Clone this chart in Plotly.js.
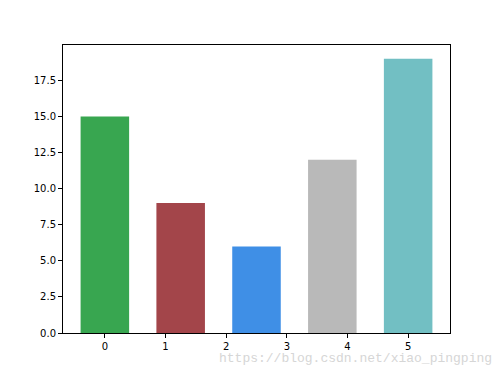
<!DOCTYPE html>
<html>
<head>
<meta charset="utf-8">
<script src="https://cdn.plot.ly/plotly-3.0.1.min.js"></script>
<style>html,body{margin:0;padding:0;background:#fff;}#chart{width:500px;height:375px;}</style>
</head>
<body>
<div id="chart"></div>
<script>
const xPositions = [0, 1.25, 2.5, 3.75, 5];
const values = [15, 9, 6, 12, 19];
const barColors = ["#38a650", "#a3454a", "#3f8fe6", "#b9b9b9", "#72bfc3"];
const xTicks = [0, 1, 2, 3, 4, 5];
const yTicks = [0, 2.5, 5, 7.5, 10, 12.5, 15, 17.5];
const yTickLabels = ["0.0", "2.5", "5.0", "7.5", "10.0", "12.5", "15.0", "17.5"];
const watermark = "https://blog.csdn.net/xiao_pingping";

const trace = {
  type: "bar",
  x: xPositions,
  y: values,
  width: 0.8,
  marker: {color: barColors, line: {width: 0}},
  hoverinfo: "x+y"
};

const layout = {
  width: 500, height: 375,
  margin: {l: 63, r: 50, t: 45, b: 42},
  paper_bgcolor: "#fff", plot_bgcolor: "#fff",
  font: {family: "DejaVu Sans", size: 10, color: "#000"},
  showlegend: false,
  xaxis: {
    range: [-0.69, 5.69],
    tickvals: xTicks, ticktext: xTicks.map(String),
    ticks: "outside", ticklen: 4, tickwidth: 1, tickcolor: "#000",
    showgrid: false, zeroline: false,
    showline: true, linecolor: "#000", linewidth: 1, mirror: true
  },
  yaxis: {
    range: [0, 19.95],
    tickvals: yTicks, ticktext: yTickLabels,
    ticks: "outside", ticklen: 4, tickwidth: 1, tickcolor: "#000",
    showgrid: false, zeroline: false,
    showline: true, linecolor: "#000", linewidth: 1, mirror: true
  },
  annotations: [{
    text: watermark, xref: "paper", yref: "paper",
    x: 0.398, y: -0.087, xanchor: "left", yanchor: "middle",
    showarrow: false,
    font: {family: "Liberation Mono", size: 13, color: "#d6d6d6"}
  }]
};

Plotly.newPlot("chart", [trace], layout, {displayModeBar: false, staticPlot: true});
</script>
</body>
</html>
